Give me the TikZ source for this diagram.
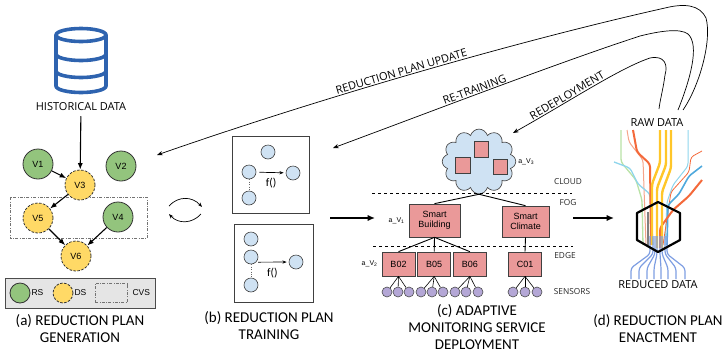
\documentclass[tikz,border=0pt]{standalone}
\usepackage{fontspec}
\setmainfont{Carlito}
\newfontfamily\osans{Open Sans}
\newfontfamily\arial{Liberation Sans}
\usetikzlibrary{arrows.meta,positioning,shapes.symbols}

\definecolor{dbblue}{HTML}{2E63AF}
\definecolor{rsgreen}{HTML}{93C47D}
\definecolor{dsyellow}{HTML}{FFD966}
\definecolor{fblue}{HTML}{CFE2F3}
\definecolor{vmred}{HTML}{EA9999}
\definecolor{sensorfill}{HTML}{B4A7D6}
\definecolor{rawyellow}{HTML}{FFC629}
\definecolor{raworange}{HTML}{F4693A}
\definecolor{rawsalmon}{HTML}{F5A48A}
\definecolor{rawgreen}{HTML}{B9E2A6}
\definecolor{rawcyan}{HTML}{8FD5EC}
\definecolor{rawblue}{HTML}{4FA9DD}
\definecolor{redblue}{HTML}{7E9EE2}

\begin{document}
\begin{tikzpicture}[x=1pt,y=-1pt,
    vnode/.style={circle,draw=black!80,line width=0.8pt,minimum size=30pt,inner sep=0pt,
                  font=\arial\fontsize{9}{10}\selectfont},
    rs/.style={vnode,fill=rsgreen},
    ds/.style={vnode,fill=dsyellow,dash pattern=on 2.5pt off 1.5pt},
    cvs/.style={draw=black!55,line width=0.7pt,dash pattern=on 3pt off 1.5pt on 0.6pt off 1.5pt},
    flow/.style={-{Latex[length=2.3mm,width=1.8mm]},line width=1.1pt},
    stage/.style={-{Latex[length=2.6mm,width=2.2mm]},line width=1.3pt},
    feedback/.style={{Stealth[length=2mm,width=1.5mm]}-,line width=0.7pt},
    caption/.style={align=center,font=\fontsize{15}{17}\selectfont},
    tag/.style={font=\osans\fontsize{11}{12}\selectfont,inner sep=1pt},
    fbox/.style={draw=black!75,line width=0.9pt,minimum width=77pt,minimum height=77pt,inner sep=0pt},
    fnode/.style={circle,draw=black!75,line width=0.6pt,fill=fblue,minimum size=14pt,inner sep=0pt},
    vm/.style={draw=black!75,line width=0.7pt,fill=vmred,inner sep=0pt,align=center,
               font=\arial\fontsize{9}{10}\selectfont},
    edgebox/.style={vm,minimum width=33pt,minimum height=24pt},
    sensornode/.style={circle,draw=black!70,fill=sensorfill,line width=0.6pt,minimum size=10pt,inner sep=0pt},
    link/.style={line width=0.9pt},
    tier/.style={dashed,line width=0.8pt},
    tierlabel/.style={font=\osans\fontsize{8.3}{9}\selectfont,text=black!85},
    avlabel/.style={font=\arial\fontsize{7}{8}\selectfont,inner sep=1pt},
    legendtext/.style={font=\arial\fontsize{8.5}{9}\selectfont,inner sep=1pt}
  ]
  \useasboundingbox (0,0) rectangle (722,354);

  % historical data store
  \begin{scope}[dbblue,line width=3.6pt]
    \draw (81,35) ellipse [x radius=25pt,y radius=6.5pt];
    \draw (56,35) -- (56,86) arc[start angle=180,end angle=360,x radius=25pt,y radius=6.5pt] -- (106,35);
    \draw (56,54) arc[start angle=180,end angle=360,x radius=25pt,y radius=6.5pt];
    \draw (56,71) arc[start angle=180,end angle=360,x radius=25pt,y radius=6.5pt];
  \end{scope}
  \node[tag] (hist) at (81,107) {HISTORICAL DATA};

  % (a) reduction plan generation
  \draw[cvs] (10,197) rectangle (147,238);
  \node[rs] (v1) at (38,164) {V1};
  \node[rs] (v2) at (121,166) {V2};
  \node[ds] (v3) at (80,185) {V3};
  \node[ds] (v5) at (38,218) {V5};
  \node[rs] (v4) at (118,217) {V4};
  \node[ds] (v6) at (76,256) {V6};
  \draw[flow,shorten <=4pt] (hist) -- (v3);
  \draw[flow] (v1) -- (v3);
  \draw[flow] (v3) -- (v5);
  \draw[flow] (v5) -- (v6);
  \draw[flow] (v4) -- (v6);

  \node[draw=black!70,fill=black!10,line width=0.8pt,minimum width=150pt,minimum height=30pt] (legend) at (80,293) {};
  \node[rs,minimum size=20pt] (lrs) at (20,293) {};
  \node[legendtext,right=0pt of lrs] {RS};
  \node[ds,minimum size=20pt] (lds) at (63,293) {};
  \node[legendtext,right=0pt of lds] {DS};
  \node[cvs,minimum width=32pt,minimum height=19pt] (lcvs) at (111,293) {};
  \node[legendtext,right=4pt of lcvs] {CVS};
  \node[caption] (capa) at (80,328.5) {(a) REDUCTION PLAN\\GENERATION};

  % generation <-> training
  \draw[-{Stealth[length=1.6mm]},line width=0.7pt] (169,206) .. controls (178,196) and (192,196) .. (202,207);
  \draw[-{Stealth[length=1.6mm]},line width=0.7pt] (201,214) .. controls (192,224) and (178,224) .. (169,214);

  % (b) reduction plan training
  \node[fbox] (tb1) at (270.5,174.5) {};
  \node[fbox,minimum width=79pt,minimum height=78pt] (tb2) at (273.5,263) {};
  \node[fnode] (a1) at (268,152) {};
  \node[fnode] (a2) at (249,172) {};
  \node[fnode] (a3) at (249,198) {};
  \node[fnode] (a4) at (293,173) {};
  \draw[dotted,black!60] (a2) -- (a3);
  \draw[-{Stealth[length=1.5mm]},line width=0.7pt,shorten <=3pt,shorten >=2pt] (a2) -- (a4)
    node[midway,below=2pt,font=\fontsize{11.5}{12}\selectfont] {f()};
  \node[fnode] (b1) at (251,239) {};
  \node[fnode] (b2) at (251,257) {};
  \node[fnode] (b3) at (251,285) {};
  \node[fnode] (b4) at (296,262) {};
  \draw[dotted,black!60] (b2) -- (b3);
  \draw[-{Stealth[length=1.5mm]},line width=0.7pt,shorten <=2pt,shorten >=2pt] (b2.south east) -- (b4)
    node[midway,below=2pt,font=\fontsize{11.5}{12}\selectfont] {f()};
  \node[caption] (capb) at (269,326) {(b) REDUCTION PLAN\\TRAINING};

  \coordinate (bout) at (330,218);
  \coordinate (cin) at (375,218);
  \draw[stage] (bout) -- (cin);

  % (c) adaptive monitoring service deployment
  \node[cloud,cloud puffs=12,cloud ignores aspect,draw=black!70,fill=fblue,line width=0.7pt,
        inner xsep=23pt,inner ysep=19pt] (cloud) at (479,161.5) {};
  \node[vm,minimum width=14pt,minimum height=16pt] (vm1) at (481.5,149) {};
  \node[vm,minimum width=15pt,minimum height=16pt] (vm2) at (462.5,165.5) {};
  \node[vm,minimum width=14pt,minimum height=15pt] (vm3) at (500,166.5) {};
  \node[avlabel,right=1pt of cloud] {a\_V\textsubscript{3}};

  \draw[tier] (372,193) -- (572,193);
  \draw[tier] (373,246) -- (573,246);
  \node[tierlabel] at (568,182) {CLOUD};
  \node[tierlabel] at (568,203) {FOG};
  \node[tierlabel] at (565,256) {EDGE};
  \node[tierlabel] at (572,292) {SENSORS};

  \node[vm,minimum width=51pt,minimum height=33pt] (sb) at (434.5,220.5) {Smart\\Building};
  \node[vm,minimum width=47pt,minimum height=31pt] (sc) at (525.5,221.5) {Smart\\Climate};
  \node[avlabel,left=3pt of sb] {a\_V\textsubscript{1}};
  \draw[link] (cloud.south) -- (sb.north);
  \draw[link] (cloud.south) -- (sc.north);

  \node[edgebox] (b02) at (398.5,264) {B02};
  \node[edgebox,right=2pt of b02] (b05) {B05};
  \node[edgebox,right=2pt of b05] (b06) {B06};
  \node[edgebox] (c01) at (525,264) {C01};
  \node[avlabel,left=3pt of b02] {a\_V\textsubscript{2}};
  \draw[link] (sb.south) -- (b02.north);
  \draw[link] (sb.south) -- (b05.north);
  \draw[link] (sb.south) -- (b06.north);
  \draw[link] (sc.south) -- (c01.north);

  \foreach \b/\xa/\xb/\xc in {b02/387/398/409,b05/421/432/443,b06/455/466/478,c01/513/525/537} {
    \foreach \sx [count=\i] in {\xa,\xb,\xc} {
      \node[sensornode] (\b-s\i) at (\sx,292) {};
      \draw[line width=0.6pt] (\b.south) -- (\b-s\i);
    }
  }
  \node[caption] (capc) at (477,327.5) {(c) ADAPTIVE\\MONITORING SERVICE\\DEPLOYMENT};

  \coordinate (cout) at (573,218);
  \coordinate (din) at (614,218);
  \draw[stage] (cout) -- (din);

  % (d) reduction plan enactment
  \node[tag] (raw) at (657,123) {RAW DATA};
  \begin{scope}[rounded corners=3pt]
    \draw[rawsalmon,line width=1pt] (627,130) -- (629,142) -- (643,160) -- (646,245);
    \draw[rawgreen,line width=1.3pt] (621,130) -- (621,162) -- (636,180) -- (642,200) -- (643,245);
    \draw[rawcyan,line width=1.3pt] (614,162) -- (630,168) -- (638,184) -- (650,194) -- (653,245);
    \draw[raworange,line width=2pt] (633,130) -- (637,152) -- (650,164) -- (651,245);
    \draw[rawcyan,line width=1pt] (688,130) -- (688,166) -- (673,185) -- (667,202) -- (665,245);
    \draw[raworange,line width=0.8pt] (702,151) -- (691,157) -- (689,172) -- (671,192) -- (663,245);
    \draw[rawblue,line width=1.6pt] (702,166) -- (689,176) -- (679,194) -- (668,205) -- (667,245);
    \draw[raworange,line width=2pt] (702,180) -- (689,196) -- (673,210) -- (660,228) -- (660,248);
    \draw[black!50,line width=1.2pt] (648,212) -- (648,245);
    \draw[rawyellow,line width=2.4pt] (660,130) -- (660,163) -- (652,184) -- (652,245);
    \draw[rawyellow,line width=2.4pt] (666,130) -- (666,165) -- (657,188) -- (657,248);
    \draw[rawyellow,line width=2.4pt] (671,130) -- (671,168) -- (662,192) -- (662,248);
    \foreach \sx/\ex in {650/631,653/639,655/647,657/654,660/661,662/668,665/676,667/685} {
      \draw[redblue,line width=1.2pt] (\sx,236) -- (\sx,254) -- (\ex,268) -- (\ex,279);
    }
  \end{scope}
  \draw[line width=2.2pt,line join=round] (658,202) -- (680,213) -- (680,240) -- (658,252)
    -- (637,240) -- (637,213) -- cycle;
  \node[tag] (reduced) at (658,285) {REDUCED DATA};
  \node[caption] (capd) at (658,328.5) {(d) REDUCTION PLAN\\ENACTMENT};

  % feedback loops out of the raw data
  \coordinate (updtip) at (157,155);
  \coordinate (updend) at (683,110);
  \coordinate (rettip) at (333,148);
  \coordinate (retend) at (678,110);
  \coordinate (deptip) at (513,133);
  \coordinate (depend) at (659,109);
  \draw[feedback] (updtip) .. controls (300,105) and (500,45) .. (665,8)
    node[pos=0.5,sloped,above,tag] {REDUCTION PLAN UPDATE}
    .. controls (685,3) and (700,5) .. (706,18) .. controls (712,40) and (700,85) .. (updend);
  \draw[feedback] (rettip) .. controls (430,112) and (560,62) .. (640,36)
    node[pos=0.45,sloped,above,tag] {RE-TRAINING}
    .. controls (660,31) and (680,28) .. (688,34) .. controls (700,45) and (690,80) .. (retend);
  \draw[feedback] (deptip) .. controls (570,101) and (620,68) .. (650,58)
    node[pos=0.35,sloped,above,tag] {REDEPLOYMENT}
    .. controls (665,55) and (668,65) .. (665,75) .. controls (663,90) and (660,100) .. (depend);
\end{tikzpicture}
\end{document}
